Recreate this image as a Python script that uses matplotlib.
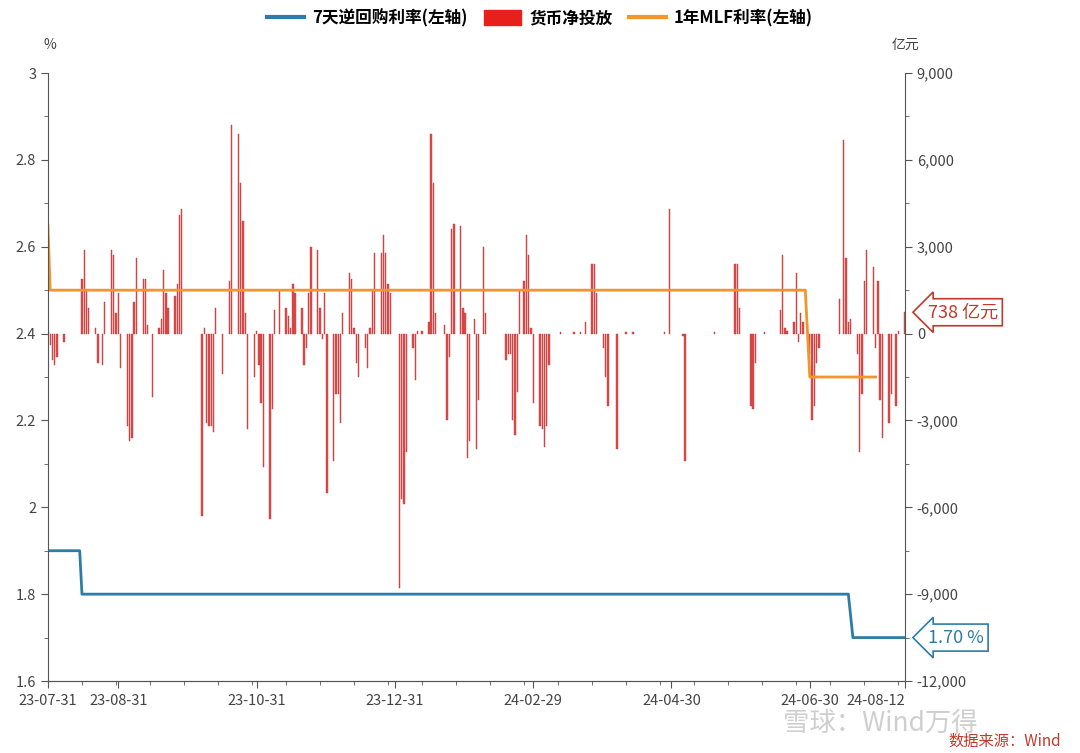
import matplotlib
matplotlib.use("Agg")
import matplotlib.pyplot as plt
import numpy as np

plt.rcParams['font.family'] = ['Noto Sans CJK SC', 'DejaVu Sans']

# day offsets from 2023-07-31 and net injection (亿元)
bar_days = [0,1,2,3,4,7,15,16,17,18,21,22,24,25,28,29,30,31,32,35,36,37,38,39,42,43,44,46,49,50,51,52,53,56,57,58,59,
            68,69,70,71,72,73,74,77,80,81,84,85,86,87,88,91,92,93,94,95,98,99,100,102,105,106,107,108,109,112,113,114,115,116,119,120,121,122,123,126,127,128,129,130,
            133,134,135,136,137,140,141,142,143,144,147,148,149,150,151,155,156,157,158,161,162,163,165,168,169,170,171,175,176,177,178,179,182,183,184,185,186,188,189,190,192,193,
            202,203,204,205,206,207,208,210,211,212,213,214,217,218,219,220,221,226,232,235,237,240,241,242,245,246,247,251,255,258,272,274,280,281,294,303,304,305,310,311,312,316,
            323,324,325,326,329,330,331,332,333,336,337,338,339,340,349,351,352,353,354,357,358,359,360,361,364,365,366,367,368,371,372,374,375,378]
bar_vals = [100,-400,-900,-1100,-800,-300,1900,2900,1500,900,200,-1000,-1100,1100,2900,2700,700,1400,-1200,-3200,-3700,-3600,1100,2600,1900,1900,300,-2200,200,500,2200,1400,900,1300,1700,4100,4300,
            -6300,200,-3100,-3200,-3200,-3400,900,-1400,1800,7200,6900,5200,3900,700,-3300,-1500,100,-1100,-2400,-4600,-6400,-2600,800,1500,900,600,200,1700,1400,900,-1100,-500,1400,3000,2900,900,-200,1400,-5500,-4400,-2100,-2100,-3100,700,
            2100,1900,200,-1000,-1500,-500,-1200,200,1500,2800,2800,3400,2800,1700,1400,-8800,-5700,-5900,-4100,-500,-1600,100,100,400,6900,5200,700,300,-3000,-800,3600,3800,3700,900,700,-4300,-3700,500,-4000,-2300,3000,700,
            -900,-700,-700,-3000,-3500,-2000,1500,1800,3400,2700,200,-2400,-3200,-3300,-3900,-3200,-1100,50,50,50,400,2400,2400,1400,-500,-1500,-2500,-4000,50,50,50,4300,-100,-4400,50,2400,2400,900,-2500,-2600,-1000,50,
            800,2700,200,100,400,2100,-300,700,400,-700,-3000,-2500,-1000,-500,1200,6700,2600,400,500,-700,-4100,-2100,1800,2900,2300,-500,1800,-2300,-3600,-3100,-2100,-2500,100,738]

repo_days = [0, 14, 15, 353, 355, 378]
repo_vals = [1.9, 1.9, 1.8, 1.8, 1.7, 1.7]
mlf_days = [0, 1, 334, 336, 365]
mlf_vals = [2.65, 2.5, 2.5, 2.3, 2.3]

tick_days = [0, 31, 92, 153, 214, 275, 336, 378]
tick_labels = ['23-07-31', '23-08-31', '23-10-31', '23-12-31', '24-02-29', '24-04-30', '24-06-30', '24-08-12']

fig = plt.figure(figsize=(10.8, 7.53), dpi=100)
ax = fig.add_axes([0.0444, 0.0956, 0.7936, 0.8074])
ax2 = ax.twinx()
ax.set_zorder(2); ax.patch.set_visible(False)

ax2.bar(bar_days, bar_vals, width=0.6, color='#e04a4a', edgecolor='#c23b3b', linewidth=0.3)
ax2.set_ylim(-12000, 9000)
ax2.set_yticks(np.arange(-12000, 9001, 3000))
ax2.set_yticklabels([f'{v:,}' for v in range(-12000, 9001, 3000)])
ax2.set_yticks(np.arange(-12000, 9001, 1500), minor=True)

ax.plot(repo_days, repo_vals, color='#2e7ca6', lw=2)
ax.plot(mlf_days, mlf_vals, color='#f0962a', lw=2)
ax.set_ylim(1.6, 3.0)
ax.set_xlim(0, 378)
ax.set_yticks(np.arange(1.6, 3.01, 0.2))
ax.set_yticklabels(['1.6', '1.8', '2', '2.2', '2.4', '2.6', '2.8', '3'])
ax.set_yticks(np.arange(1.6, 3.01, 0.1), minor=True)
ax.set_xticks(tick_days)
ax.set_xticklabels(tick_labels)
ax.get_xticklabels()[-1].set_horizontalalignment('right')
ax.get_xticklabels()[-1].set_x(0)
ax.set_xticks(range(0, 379, 15), minor=True)

for a in (ax, ax2):
    a.spines['top'].set_visible(False)
    for s in a.spines.values():
        s.set_color('#555555')
    a.tick_params(colors='#444444', labelsize=10.5, length=5, color='#555555')
    a.tick_params(which='minor', length=3, color='#555555')
ax.spines['right'].set_visible(False)
ax2.spines['left'].set_visible(False)
ax.tick_params(axis='x', pad=4)

fig.text(0.04, 0.935, '%', fontsize=10, color='#444444')
fig.text(0.826, 0.935, '亿元', fontsize=10, color='#444444')

from matplotlib.lines import Line2D
from matplotlib.patches import Patch
handles = [Line2D([], [], color='#2e7ca6', lw=3), Patch(color='#e8201c'), Line2D([], [], color='#f0962a', lw=3)]
fig.legend(handles, ['7天逆回购利率(左轴)', '货币净投放', '1年MLF利率(左轴)'], loc='upper center',
           bbox_to_anchor=(0.50, 1.008), ncol=3, frameon=False, handlelength=2.2, handleheight=1.0,
           columnspacing=1.0, handletextpad=0.5, prop={'weight': 'bold', 'size': 12})

ax2.annotate('738 亿元', xy=(378, 738), xytext=(388, 738), va='center', ha='left',
             fontsize=13, color='#c0392b', annotation_clip=False,
             bbox=dict(boxstyle='larrow,pad=0.25', fc='white', ec='#c0392b', lw=1.2))
ax.annotate('1.70 %', xy=(378, 1.7), xytext=(388, 1.7), va='center', ha='left',
            fontsize=13, color='#2e7ca6', annotation_clip=False,
            bbox=dict(boxstyle='larrow,pad=0.25', fc='white', ec='#2e7ca6', lw=1.2))

fig.text(0.725, 0.03, '雪球：Wind万得', fontsize=19, color='#bbbbbb', alpha=0.7)
fig.text(0.878, 0.01, '数据来源：Wind', fontsize=11, color='#c0392b')

fig.savefig('out.png', dpi=100)
